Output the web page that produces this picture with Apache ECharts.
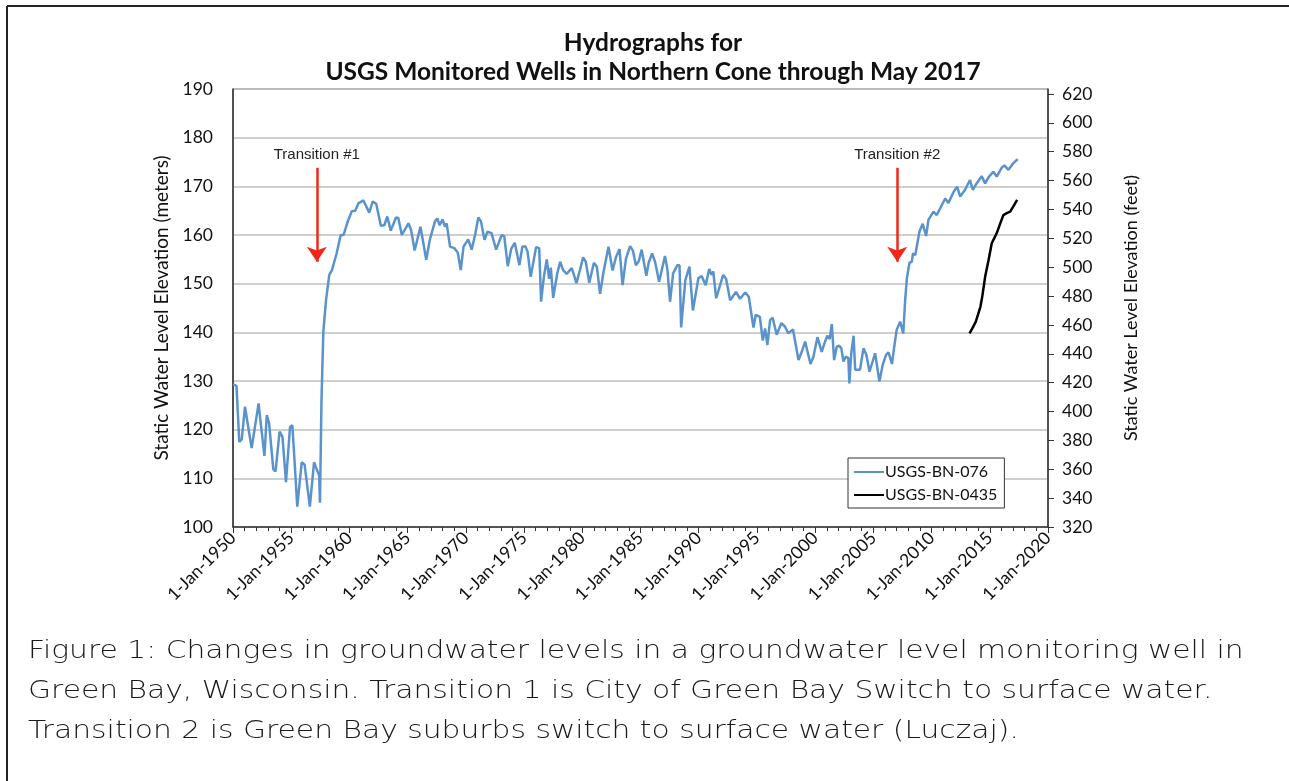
<!DOCTYPE html>
<html>
<head>
<meta charset="utf-8">
<script src="https://cdn.jsdelivr.net/npm/echarts@6/dist/echarts.min.js"></script>
<style>
html,body{margin:0;padding:0;background:#fff;}
#main{width:1289px;height:781px;}
</style>
</head>
<body>
<div id="main"></div>
<script>
// USGS-BN-076 (years as decimals, level in metres)
var bn076Years = [1950.0,1950.3,1950.54,1950.75,1951.03,1951.17,1951.6,1952.2,1952.35,1952.7,1952.9,1953.1,1953.46,1953.65,1954.0,1954.25,1954.55,1954.9,1955.1,1955.25,1955.52,1955.9,1956.15,1956.6,1956.96,1957.2,1957.4,1957.47,1957.55,1957.6,1957.76,1957.99,1958.27,1958.5,1958.9,1959.25,1959.5,1959.8,1960.2,1960.5,1960.77,1961.2,1961.7,1962.0,1962.3,1962.7,1963.0,1963.25,1963.55,1964.0,1964.2,1964.5,1965.07,1965.3,1965.6,1966.1,1966.25,1966.6,1966.9,1967.35,1967.55,1967.75,1968.0,1968.2,1968.35,1968.64,1969.0,1969.3,1969.56,1969.8,1970.2,1970.5,1970.8,1971.07,1971.3,1971.6,1971.85,1972.2,1972.6,1973.08,1973.3,1973.6,1973.9,1974.2,1974.6,1974.85,1975.1,1975.3,1975.57,1976.03,1976.3,1976.46,1976.7,1976.95,1977.15,1977.3,1977.5,1977.85,1978.1,1978.35,1978.66,1979.1,1979.5,1979.8,1980.07,1980.3,1980.6,1981.0,1981.25,1981.53,1981.8,1982.25,1982.6,1982.9,1983.2,1983.46,1983.75,1984.1,1984.35,1984.6,1984.85,1985.1,1985.25,1985.5,1985.7,1986.0,1986.25,1986.6,1987.1,1987.3,1987.54,1987.8,1988.17,1988.35,1988.49,1988.7,1988.85,1989.2,1989.5,1989.97,1990.25,1990.6,1990.9,1991.1,1991.25,1991.5,1991.8,1992.1,1992.35,1992.7,1993.2,1993.55,1994.0,1994.3,1994.7,1994.9,1995.25,1995.5,1995.7,1995.9,1996.13,1996.35,1996.7,1997.1,1997.4,1997.7,1998.1,1998.57,1998.85,1999.14,1999.6,1999.85,2000.2,2000.56,2000.85,2001.05,2001.25,2001.43,2001.63,2001.85,2002.05,2002.25,2002.43,2002.65,2002.85,2002.94,2003.1,2003.3,2003.44,2003.6,2003.85,2004.15,2004.4,2004.67,2005.15,2005.3,2005.52,2005.8,2006.1,2006.3,2006.6,2006.75,2007.0,2007.3,2007.57,2007.73,2007.88,2008.1,2008.3,2008.4,2008.6,2008.96,2009.24,2009.53,2009.73,2010.16,2010.45,2010.74,2011.17,2011.45,2011.9,2012.2,2012.46,2012.9,2013.3,2013.54,2013.9,2014.3,2014.6,2014.9,2015.3,2015.6,2016.04,2016.25,2016.6,2017.0,2017.4];
var bn076Levels = [129.3,129.0,117.5,118.0,124.7,125.1,116.2,125.4,122.0,114.6,123.0,121.3,111.9,111.4,119.6,118.5,109.2,120.6,120.9,115.0,104.2,113.3,112.8,104.2,113.3,111.8,110.6,105.0,105.0,126.1,140.2,146.6,151.8,152.8,156.2,160.0,160.0,162.4,164.9,165.0,166.5,167.1,164.6,166.9,166.4,161.9,162.0,163.8,160.9,163.6,163.5,160.0,162.4,161.0,156.8,161.7,161.7,154.9,159.0,162.8,163.4,162.0,163.2,161.7,162.4,157.6,157.3,156.4,152.8,157.6,159.1,157.0,160.1,163.6,162.8,159.0,160.7,160.4,157.0,160.0,159.7,153.6,157.2,158.4,153.8,157.6,157.7,156.6,151.4,157.5,157.3,146.3,151.4,155.0,151.0,153.3,147.1,152.1,154.5,152.8,152.0,153.2,150.1,152.8,155.4,154.5,150.2,154.3,153.5,147.9,152.1,157.6,152.7,155.5,157.1,149.7,155.1,157.7,156.8,153.8,154.6,157.0,156.6,151.6,154.3,156.2,154.5,150.4,155.7,153.1,146.3,152.1,153.8,153.8,141.0,146.6,150.7,153.5,144.5,151.1,151.6,149.7,153.0,151.8,152.5,147.0,149.4,151.8,151.0,146.6,148.3,146.9,148.2,147.3,141.0,143.6,143.2,138.3,140.8,137.4,142.5,143.0,139.5,141.9,141.2,139.8,140.6,134.3,136.0,138.1,133.5,135.0,139.0,136.0,138.1,139.3,138.6,141.7,134.3,137.0,137.3,136.7,134.0,135.0,134.7,129.5,135.6,139.3,132.3,132.6,132.3,136.7,135.4,131.9,135.7,135.4,129.9,133.3,135.4,135.9,133.5,136.3,140.5,142.2,139.8,146.6,151.1,154.3,154.5,156.2,155.9,160.7,162.3,159.8,163.1,164.8,164.1,165.5,167.5,166.6,168.9,169.9,167.9,169.4,171.3,169.3,170.7,172.1,170.6,171.9,173.0,172.0,173.9,174.3,173.4,174.7,175.6];

// USGS-BN-0435
var bn0435Years = [2013.26,2013.5,2013.8,2014.2,2014.35,2014.6,2014.9,2015.17,2015.6,2015.9,2016.17,2016.46,2016.75,2017.0,2017.35];
var bn0435Levels = [139.8,140.8,142.2,145.3,147.3,151.4,154.9,158.3,160.4,162.4,164.1,164.5,164.8,165.8,167.2];

var seriesNames = ['USGS-BN-076', 'USGS-BN-0435'];
var transitionNames = ['Transition #1', 'Transition #2'];
var transitionYears = [1957.2, 2007.05];
var captionLines = [
	'Figure 1: Changes in groundwater levels in a groundwater level monitoring well in',
	'Green Bay, Wisconsin. Transition 1 is City of Green Bay Switch to surface water.',
	'Transition 2 is Green Bay suburbs switch to surface water (Luczaj).'
];

function zip(xs, ys){
	var out = [];
	for (var i = 0; i < xs.length; i++) out.push([xs[i], ys[i]]);
	return out;
}

var arrows = transitionYears.map(function(yr, i){
	return [
		{coord: [yr, 173.8], name: transitionNames[i]},
		{coord: [yr, 154.5]}
	];
});

// caption font is wider than anything installed, so stretch it a bit
var captionText = captionLines.map(function(t, i){
	return {
		type: 'text', x: 28, y: 639 + i * 40, scaleX: 1.19,
		style: {text: t, font: '200 25px "DejaVu Sans"', fill: '#1a1a1a'}
	};
});

var myChart = echarts.init(document.getElementById('main'));
var option = {
	backgroundColor: '#fff',
	animation: false,
	title: {
		text: 'Hydrographs for\nUSGS Monitored Wells in Northern Cone through May 2017',
		left: 648, top: 24, textAlign: 'center',
		textStyle: {fontFamily: 'Lato', fontWeight: 'bold', fontSize: 24.5, color: '#111', lineHeight: 29}
	},
	grid: {left: 233, right: 241, top: 89, bottom: 254, show: true, borderColor: '#595959', borderWidth: 1},
	legend: {
		orient: 'vertical', left: 848, top: 458,
		data: seriesNames,
		icon: 'rect', itemWidth: 30, itemHeight: 2, itemGap: 7,
		padding: [6, 7, 5, 6],
		borderColor: '#333', borderWidth: 1, backgroundColor: '#fff',
		textStyle: {fontFamily: 'Lato', fontSize: 16, color: '#111', padding: [0, 0, 0, -4]}
	},
	xAxis: {
		type: 'value', min: 1950, max: 2020, interval: 5,
		axisLine: {show: true, lineStyle: {color: '#333', width: 1.5}},
		axisTick: {show: true, length: 6, lineStyle: {color: '#333'}},
		minorTick: {show: true, splitNumber: 5, length: 4, lineStyle: {color: '#333'}},
		splitLine: {show: false},
		axisLabel: {
			rotate: 45, fontFamily: 'Lato', fontSize: 17.5, color: '#111', margin: 8,
			formatter: function(v){ return '1-Jan-' + v; }
		}
	},
	yAxis: [{
		type: 'value', min: 100, max: 190, interval: 10,
		name: 'Static Water Level Elevation (meters)', nameLocation: 'middle', nameGap: 60,
		nameTextStyle: {fontFamily: 'Lato', fontSize: 19, color: '#111'},
		axisLine: {show: true, lineStyle: {color: '#333', width: 1.5}},
		axisTick: {show: false},
		splitLine: {lineStyle: {color: '#bfbfbf', width: 1.5}},
		axisLabel: {fontFamily: 'Lato', fontSize: 17.5, color: '#111', margin: 20}
	}, {
		type: 'value', min: 320, max: 623.4, interval: 20, position: 'right',
		name: 'Static Water Level Elevation (feet)', nameLocation: 'middle', nameGap: 74,
		nameTextStyle: {fontFamily: 'Lato', fontSize: 18, color: '#111'},
		axisLine: {show: true, lineStyle: {color: '#333', width: 1.5}},
		axisTick: {show: true, length: 6, lineStyle: {color: '#333'}},
		splitLine: {show: false},
		axisLabel: {fontFamily: 'Lato', fontSize: 17.5, color: '#111', margin: 14, showMaxLabel: false}
	}],
	series: [{
		name: seriesNames[0], type: 'line', data: zip(bn076Years, bn076Levels),
		showSymbol: false, symbol: 'none',
		lineStyle: {color: '#5a93cc', width: 2.5}, itemStyle: {color: '#5a93cc'},
		markLine: {
			silent: true, animation: false,
			symbol: ['none', 'arrow'], symbolSize: 15,
			lineStyle: {color: '#f2261b', width: 2.5, type: 'solid'},
			label: {
				show: true, position: 'start', distance: 5,
				formatter: '{b}', fontFamily: 'Liberation Sans', fontSize: 15, color: '#222'
			},
			data: arrows
		}
	}, {
		name: seriesNames[1], type: 'line', data: zip(bn0435Years, bn0435Levels),
		showSymbol: false, symbol: 'none',
		lineStyle: {color: '#000', width: 2.5}, itemStyle: {color: '#000'}
	}],
	graphic: [
		{type: 'line', shape: {x1: 7, y1: 6, x2: 1289, y2: 6}, style: {stroke: '#222', lineWidth: 2}},
		{type: 'line', shape: {x1: 7, y1: 6, x2: 7, y2: 781}, style: {stroke: '#222', lineWidth: 2}}
	].concat(captionText)
};
if (option && typeof option === "object") {
	myChart.setOption(option, true);
}
</script>
</body>
</html>
